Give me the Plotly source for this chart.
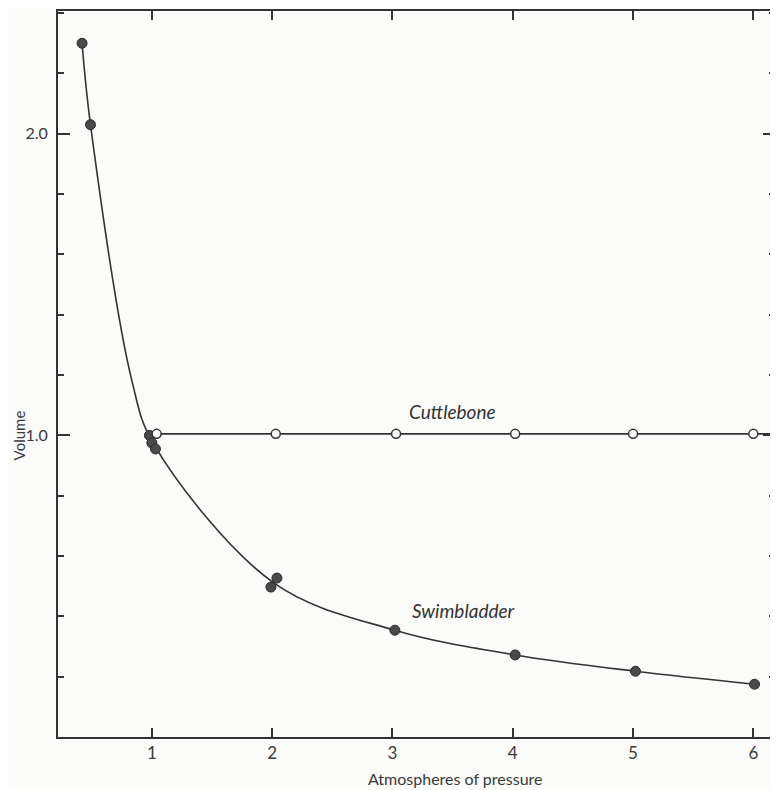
import plotly.graph_objects as go

# ---- data ----
# Swimbladder: measured points (filled circles)
swim_pressure = [0.42, 0.49, 0.98, 1.00, 1.03, 1.99, 2.04, 3.02, 4.02, 5.02, 6.01]
swim_volume = [2.30, 2.03, 1.00, 0.975, 0.955, 0.497, 0.527, 0.354, 0.272, 0.218, 0.175]

# Swimbladder: the smooth curve drawn through the points
curve_pressure = [0.42, 0.49, 0.835, 1.01, 2.01, 3.02, 4.02, 5.02, 6.01]
curve_volume = [2.30, 2.03, 1.18, 0.975, 0.512, 0.354, 0.272, 0.218, 0.175]

# Cuttlebone: open circles
cuttle_pressure = [1.04, 2.03, 3.03, 4.02, 5.00, 6.00]
cuttle_volume = [1.005, 1.005, 1.005, 1.005, 1.005, 1.005]
cuttle_line_end = 6.4  # the line runs on past the last point, off the frame

x_ticks = [1, 2, 3, 4, 5, 6]
y_ticks = [1, 2]
y_tick_labels = ["1.0", "2.0"]

INK = "#333333"
PAPER = "#fbfbfa"
FONT = "Lato"

fig = go.Figure()

fig.add_trace(go.Scatter(
    x=curve_pressure, y=curve_volume, mode="lines",
    line=dict(shape="spline", smoothing=1.0, color=INK, width=1.6),
    hoverinfo="skip", showlegend=False))

fig.add_trace(go.Scatter(
    x=swim_pressure, y=swim_volume, mode="markers",
    marker=dict(size=10, color="#4a4a4a", line=dict(color="#2a2a2a", width=1)),
    name="Swimbladder", showlegend=False))

fig.add_trace(go.Scatter(
    x=cuttle_pressure + [cuttle_line_end],
    y=cuttle_volume + [cuttle_volume[-1]], mode="lines",
    line=dict(color=INK, width=1.6),
    hoverinfo="skip", showlegend=False))

fig.add_trace(go.Scatter(
    x=cuttle_pressure, y=cuttle_volume, mode="markers",
    marker=dict(size=9, color=PAPER, line=dict(color=INK, width=1.5)),
    name="Cuttlebone", showlegend=False))

fig.update_layout(
    width=770, height=782,
    margin=dict(l=50, r=1, t=2, b=53),
    paper_bgcolor=PAPER, plot_bgcolor=PAPER,
    font=dict(family=FONT, color="#3a3a3a", size=16),
    showlegend=False,
    xaxis=dict(
        range=[0.22, 6.18], showgrid=False, zeroline=False,
        showline=True, linecolor=INK, linewidth=2, mirror="ticks",
        ticks="inside", ticklen=9, tickwidth=1.5, tickcolor=INK,
        tickmode="array", tickvals=x_ticks,
        tickfont=dict(family=FONT, size=17, color="#3a3a3a"),
    ),
    yaxis=dict(
        range=[0, 2.407], showgrid=False, zeroline=False,
        showline=True, linecolor=INK, linewidth=2, mirror="ticks",
        ticks="inside", ticklen=12, tickwidth=1.5, tickcolor=INK,
        tickmode="array", tickvals=y_ticks, ticktext=y_tick_labels,
        ticklabelstandoff=5,
        tickfont=dict(family=FONT, size=16, color="#3a3a3a"),
        minor=dict(ticks="inside", ticklen=6, tickwidth=1.5, tickcolor=INK,
                   tickmode="linear", tick0=0, dtick=0.2, showgrid=False),
    ),
    annotations=[
        dict(text="<i>Cuttlebone</i>", x=3.50, y=1.08, xref="x", yref="y",
             showarrow=False, font=dict(family=FONT, size=19, color="#333333")),
        dict(text="<i>Swimbladder</i>", x=3.59, y=0.42, xref="x", yref="y",
             showarrow=False, font=dict(family=FONT, size=19, color="#333333")),
        dict(text="Atmospheres of pressure", x=3.52, y=0, xref="x", yref="paper",
             yanchor="middle", yshift=-41, showarrow=False,
             font=dict(family=FONT, size=16, color="#3a3a3a")),
        dict(text="Volume", x=0, y=1.0, xref="paper", yref="y",
             xanchor="center", xshift=-39, textangle=-90, showarrow=False,
             font=dict(family=FONT, size=15, color="#3a3a3a")),
    ],
)

fig.write_html("out.html")
